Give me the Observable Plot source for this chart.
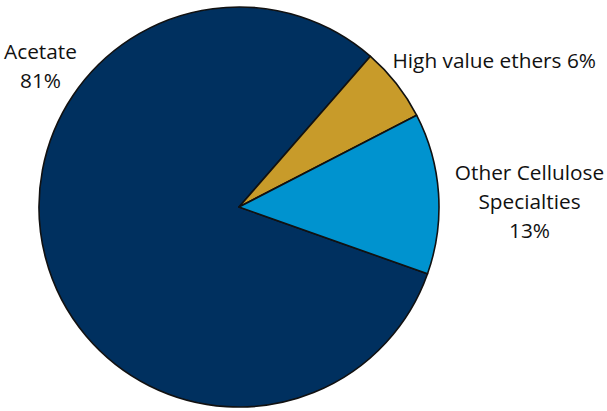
<!DOCTYPE html>
<html>
<head>
<meta charset="utf-8">
<script src="https://cdn.jsdelivr.net/npm/d3@7"></script>
<script src="https://cdn.jsdelivr.net/npm/@observablehq/plot@0.6"></script>
<style>
  html, body { margin: 0; padding: 0; background: #fff; }
  #chart svg { display: block; }
</style>
</head>
<body>
<div id="chart"></div>
<script>
// ---- data ----
const categories = ["Acetate", "High value ethers", "Other Cellulose Specialties"];
const shares = [81, 6, 13];
const colors = ["#00305F", "#C89B2A", "#0093CF"];
const labelTexts = ["Acetate\n81%", "High value ethers 6%", "Other Cellulose\nSpecialties\n13%"];

// ---- layout (not data) ----
const W = 607, H = 411;
const center = {x: 239, y: 207};
const radius = 200;
const startDeg = 109.5;
const labelPos = [
  {x: 40, y: 63.5, anchor: "middle"},
  {x: 392, y: 58.5, anchor: "start"},
  {x: 529, y: 199.5, anchor: "middle"}
];

const data = categories.map((c, i) => ({category: c, share: shares[i]}));
const labels = labelTexts.map((t, i) => ({text: t, ...labelPos[i]}));

const colorScale = Plot.scale({color: {type: "ordinal", domain: categories, range: colors}});
const xScale = Plot.scale({x: {domain: [0, W], range: [0, W]}});
const yScale = Plot.scale({y: {domain: [0, H], range: [0, H]}});

const pie = d3.pie().sort(null).value(d => d.share)
  .startAngle(startDeg * Math.PI / 180)
  .endAngle(startDeg * Math.PI / 180 + 2 * Math.PI);

function pieMark() {
  const cx = xScale.apply(center.x), cy = yScale.apply(center.y);
  const r = xScale.apply(center.x + radius) - cx;
  const arcs = pie(data);
  const arc = d3.arc().innerRadius(0).outerRadius(r);
  const g = d3.create("svg:g").attr("transform", `translate(${cx},${cy})`);
  g.selectAll("path").data(arcs).join("path")
    .attr("d", arc)
    .attr("fill", d => colorScale.apply(d.data.category))
    .attr("stroke", "#111")
    .attr("stroke-width", 1.6)
    .attr("stroke-linejoin", "round");
  return g.node();
}

const textOpts = {
  x: "x", y: "y", text: "text",
  lineAnchor: "middle",
  lineHeight: 1.38,
  fontSize: 20.8,
  fontFamily: "Open Sans",
  fill: "#111"
};

const chart = Plot.plot({
  width: W,
  height: H,
  margin: 0,
  style: {background: "#fff"},
  x: {domain: [0, W], range: [0, W], axis: null},
  y: {domain: [0, H], range: [0, H], axis: null},
  marks: [
    pieMark,
    Plot.text(labels.filter(d => d.anchor === "middle"), {...textOpts, textAnchor: "middle"}),
    Plot.text(labels.filter(d => d.anchor === "start"), {...textOpts, textAnchor: "start"})
  ]
});
document.getElementById("chart").appendChild(chart);
</script>
</body>
</html>
